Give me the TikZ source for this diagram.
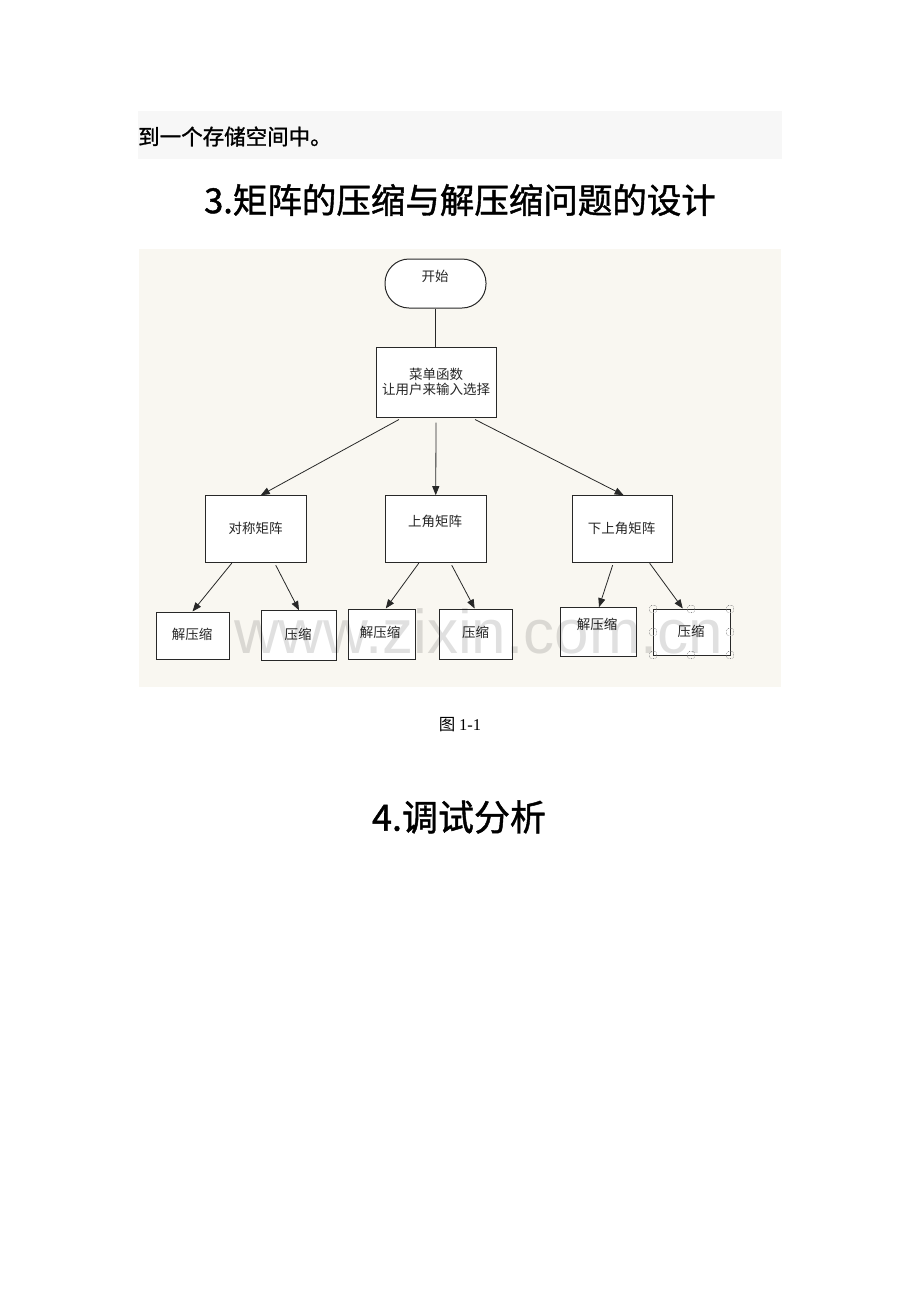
\documentclass[tikz,border=0pt]{standalone}
\usepackage{fontspec}
\setmainfont{Noto Sans CJK SC}
\newfontfamily\headfont{Noto Sans CJK SC}[FakeBold=1.2]
\newfontfamily\wmfont{Liberation Sans}
\newfontfamily\numfont{Liberation Serif}
\usetikzlibrary{arrows.meta,calc}
\definecolor{graybg}{RGB}{247,247,247}
\definecolor{beige}{RGB}{249,247,241}
\definecolor{ink}{RGB}{40,40,40}
\begin{document}
\begin{tikzpicture}[x=1pt,y=-1pt,
  box/.style={draw=ink, fill=white, line width=1pt, inner sep=0pt},
  lbl/.style={font=\fontsize{13.5}{15}\selectfont, inner sep=0pt, text=black!85, align=center},
  arr/.style={draw=ink, line width=0.8pt, -{Triangle[length=9pt,width=7pt]}},
  conn/.style={draw=ink, line width=0.8pt},
  handle/.style={draw=black!45, densely dotted, line width=0.6pt, rounded corners=1.5pt, minimum width=7pt, minimum height=7pt, inner sep=0pt}]
\fill[white] (0,0) rectangle (920,1302);
\useasboundingbox (0,0) rectangle (920,1302);
% top text line
\fill[graybg] (138,111) rectangle (782,159);
\node[anchor=west, inner sep=0pt, font=\headfont\fontsize{21.5}{24}\selectfont] (line1) at (138,136.5) {到一个存储空间中。};
\node[inner sep=0pt, font=\headfont\fontsize{34.5}{40}\selectfont] (h3) at (460,200) {3.矩阵的压缩与解压缩问题的设计};
% diagram background
\fill[beige] (139,249) rectangle (781,687);
% nodes
\node[box, minimum width=101pt, minimum height=49pt, rounded corners=24pt] (start) at (435.5,283.5) {};
\node[lbl] (startt) at (435,276) {开始};
\node[box, minimum width=120pt, minimum height=70pt] (menu) at (436,382) {};
\node[lbl] (menut) at (436,381.5) {菜单函数\\让用户来输入选择};
\node[box, minimum width=101.5pt, minimum height=67pt] (sym) at (255.75,529.2) {};
\node[lbl] (symt) at (255.5,528) {对称矩阵};
\node[box, minimum width=101.5pt, minimum height=67pt] (up) at (435.75,529.2) {};
\node[lbl] (upt) at (435,521) {上角矩阵};
\node[box, minimum width=100pt, minimum height=67pt] (low) at (622.65,529.2) {};
\node[lbl] (lowt) at (621.5,528) {下上角矩阵};
\node[box, minimum width=73pt, minimum height=47pt] (b1) at (192.5,635.5) {};
\node[lbl] (b1t) at (192,634) {解压缩};
\node[box, minimum width=75pt, minimum height=50pt] (b2) at (298.5,635.7) {};
\node[lbl] (b2t) at (298,634) {压缩};
\node[box, minimum width=67.5pt, minimum height=50pt] (b3) at (381.75,634) {};
\node[lbl] (b3t) at (380,632.7) {解压缩};
\node[box, minimum width=73pt, minimum height=50pt] (b4) at (476.15,634) {};
\node[lbl] (b4t) at (475.7,632.7) {压缩};
\node[box, minimum width=76pt, minimum height=49.3pt] (b5) at (598,632.3) {};
\node[lbl] (b5t) at (597,624) {解压缩};
\node[box, minimum width=77.6pt, minimum height=46pt] (b6) at (691.8,632) {};
\node[lbl] (b6t) at (691,631.7) {压缩};
% connectors
\draw[conn] (start.south) -- (start.south |- menu.north);
\draw[arr] ([xshift=-37pt,yshift=-2pt]menu.south) -- ([xshift=5pt]sym.north);
\draw[arr] ([yshift=-5pt]menu.south) -- (up.north);
\draw[arr] ([xshift=39pt,yshift=-2pt]menu.south) -- ([xshift=1pt]low.north);
\draw[arr] ([xshift=-24pt]sym.south) -- (b1.north);
\draw[arr] ([xshift=20pt,yshift=-2pt]sym.south) -- ([xshift=0.5pt]b2.north);
\draw[arr] ([xshift=-17pt]up.south) -- ([xshift=4pt]b3.north);
\draw[arr] ([xshift=16pt,yshift=-2pt]up.south) -- ([xshift=-1.5pt]b4.north);
\draw[arr] ([xshift=-10pt,yshift=-2pt]low.south) -- ([xshift=1pt]b5.north);
\draw[arr] ([xshift=27pt]low.south) -- ([xshift=-9pt]b6.north);
% selection handles
\foreach \i/\hx/\hy in {1/653/609,2/691/609,3/730/609,4/653/632,5/730/632,6/653/655,7/691/655,8/730/655}
  \node[handle] (h\i) at (\hx,\hy) {};
% watermark
\node[anchor=base west, inner sep=0pt, font=\wmfont\fontsize{62}{70}\selectfont, text=black, text opacity=0.12] (wm) at (234,653) {www.zixin.com.cn};
% caption and heading
\node[inner sep=0pt, font=\fontsize{16.5}{19}\selectfont] (cap) at (460,725) {图 {\numfont 1-1}};
\node[inner sep=0pt, font=\headfont\fontsize{36}{42}\selectfont] (h4) at (459,817) {4.调试分析};
\end{tikzpicture}
\end{document}
